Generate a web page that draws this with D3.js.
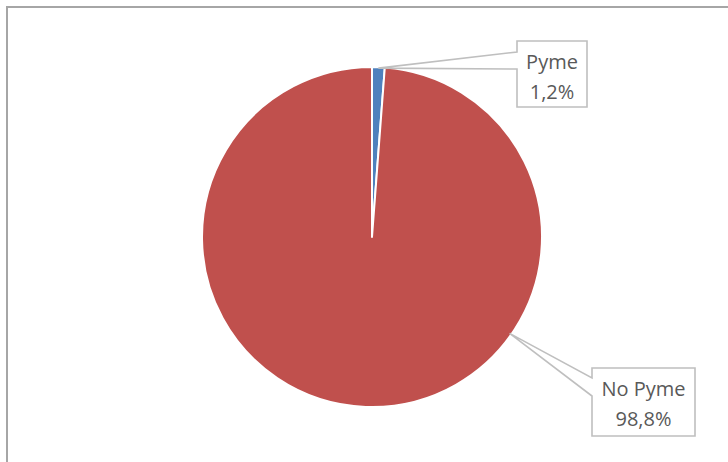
<!DOCTYPE html>
<html>
<head>
<meta charset="utf-8">
<script src="https://cdn.jsdelivr.net/npm/d3@7/dist/d3.min.js"></script>
<style>
  html, body { margin: 0; padding: 0; background: #fff; }
  svg { display: block; }
</style>
</head>
<body>
<svg id="chart" width="728" height="462"></svg>
<script>
// Share of companies by type
const categories = ["Pyme", "No Pyme"];
const values = [1.2, 98.8];
const valueLabels = ["1,2%", "98,8%"];
const colors = ["#4f81bd", "#c0504d"];

const W = 728, H = 462;
const cx = 372, cy = 237, R = 170;

const svg = d3.select("#chart");

// chart area frame (runs off the right and bottom edges)
svg.append("rect")
  .attr("x", 7).attr("y", 7)
  .attr("width", W + 10).attr("height", H + 10)
  .attr("fill", "#fff")
  .attr("stroke", "#a6a6a6")
  .attr("stroke-width", 2);

const pie = d3.pie().sort(null).value(d => d)(values);
const arc = d3.arc().innerRadius(0).outerRadius(R);

const g = svg.append("g").attr("transform", `translate(${cx},${cy})`);
g.selectAll("path.slice")
  .data(pie)
  .join("path")
  .attr("class", "slice")
  .attr("d", arc)
  .attr("fill", (d, i) => colors[i])
  .attr("stroke", "#fff")
  .attr("stroke-width", 2)
  .attr("stroke-linejoin", "round");

// callout boxes: box geometry + where the pointer touches the slice edge
const callouts = [
  { x: 517, y: 41, w: 70, h: 66, baseA: 11, baseB: 28, tipAngle: (pie[0].startAngle + pie[0].endAngle) / 2, tipR: R - 1 },
  { x: 592, y: 368, w: 103, h: 68, baseA: 10, baseB: 28, tipAngle: 125 * Math.PI / 180, tipR: R - 2 }
];

callouts.forEach((c, i) => {
  const tx = cx + c.tipR * Math.sin(c.tipAngle);
  const ty = cy - c.tipR * Math.cos(c.tipAngle);
  const p = d3.path();
  p.moveTo(c.x, c.y);
  p.lineTo(c.x + c.w, c.y);
  p.lineTo(c.x + c.w, c.y + c.h);
  p.lineTo(c.x, c.y + c.h);
  p.lineTo(c.x, c.y + c.baseB);
  p.lineTo(tx, ty);
  p.lineTo(c.x, c.y + c.baseA);
  p.closePath();
  svg.append("path")
    .attr("d", p.toString())
    .attr("fill", "#fff")
    .attr("stroke", "#bfbfbf")
    .attr("stroke-width", 1.6)
    .attr("stroke-linejoin", "miter");

  const t = svg.append("text")
    .attr("text-anchor", "middle")
    .attr("font-family", "'Open Sans', 'Noto Sans', sans-serif")
    .attr("font-size", 20)
    .attr("fill", "#595959");
  t.append("tspan").attr("x", c.x + c.w / 2).attr("y", c.y + 28).text(categories[i]);
  t.append("tspan").attr("x", c.x + c.w / 2).attr("y", c.y + 58).text(valueLabels[i]);
});
</script>
</body>
</html>
